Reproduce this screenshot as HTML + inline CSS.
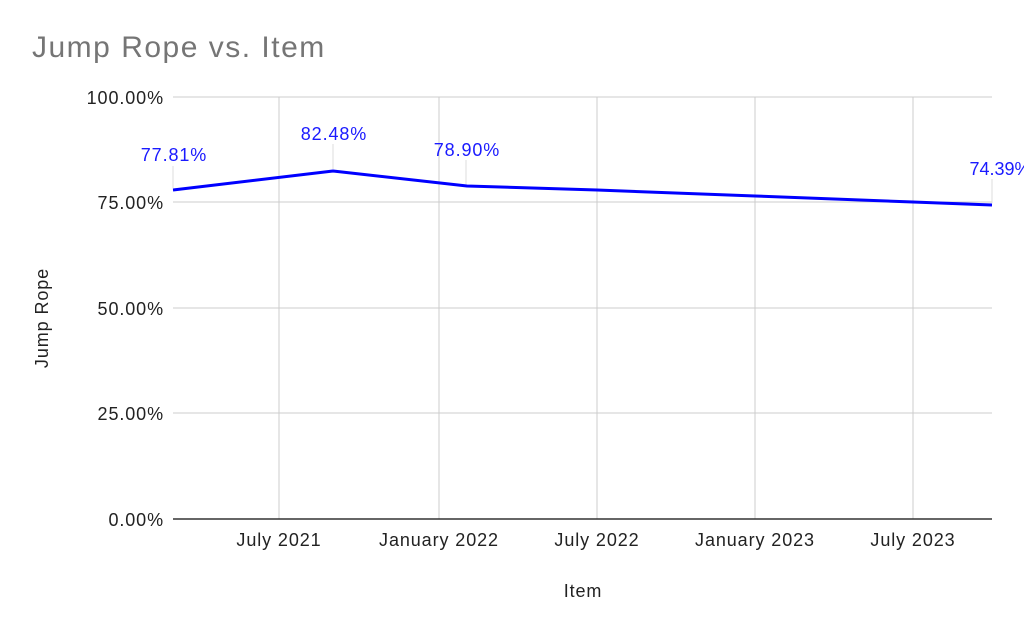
<!DOCTYPE html>
<html><head><meta charset="utf-8"><style>
html,body{margin:0;padding:0;background:#fff;}
svg{display:block;font-family:"Liberation Sans",Arial,sans-serif;}
</style></head><body>
<svg width="1024" height="633" viewBox="0 0 1024 633" xmlns="http://www.w3.org/2000/svg">
<rect width="1024" height="633" fill="#fff"/>
<text x="32" y="57" font-size="30" letter-spacing="1.5" fill="#757575">Jump Rope vs. Item</text>
<g stroke="#cccccc" stroke-width="1">
<line x1="173" y1="97" x2="992" y2="97"/>
<line x1="173" y1="202" x2="992" y2="202"/>
<line x1="173" y1="308" x2="992" y2="308"/>
<line x1="173" y1="413" x2="992" y2="413"/>
<line x1="279" y1="97" x2="279" y2="519"/>
<line x1="439" y1="97" x2="439" y2="519"/>
<line x1="597" y1="97" x2="597" y2="519"/>
<line x1="755" y1="97" x2="755" y2="519"/>
<line x1="913" y1="97" x2="913" y2="519"/>
</g>
<line x1="173" y1="519" x2="992" y2="519" stroke="#333" stroke-width="1.5"/>
<g font-size="18" letter-spacing="0.9" fill="#222" text-anchor="end">
<text x="164" y="104">100.00%</text>
<text x="164" y="209">75.00%</text>
<text x="164" y="315">50.00%</text>
<text x="164" y="420">25.00%</text>
<text x="164" y="526">0.00%</text>
</g>
<g font-size="18" letter-spacing="0.9" fill="#222" text-anchor="middle">
<text x="279" y="546">July 2021</text>
<text x="439" y="546">January 2022</text>
<text x="597" y="546">July 2022</text>
<text x="755" y="546">January 2023</text>
<text x="913" y="546">July 2023</text>
<text x="583" y="597">Item</text>
</g>
<text transform="translate(48,318) rotate(-90)" font-size="18" letter-spacing="0.9" fill="#222" text-anchor="middle">Jump Rope</text>
<g stroke="#ddd" stroke-width="1">
<line x1="173" y1="166" x2="173" y2="188"/>
<line x1="333" y1="144" x2="333" y2="169"/>
<line x1="466" y1="160" x2="466" y2="184"/>
<line x1="992" y1="179" x2="992" y2="203"/>
</g>
<polyline points="173,190 333,171 467,186 597,190 755,196 913,202 992,205" fill="none" stroke="#0000ff" stroke-width="3" stroke-linejoin="round"/>
<g font-size="18" letter-spacing="0.9" fill="#1a1aff" text-anchor="middle">
<text x="174" y="161">77.81%</text>
<text x="334" y="140">82.48%</text>
<text x="467" y="156">78.90%</text>
</g>
<text x="1000" y="175" font-size="18" fill="#1a1aff" text-anchor="middle">74.39%</text>
</svg>
</body></html>
